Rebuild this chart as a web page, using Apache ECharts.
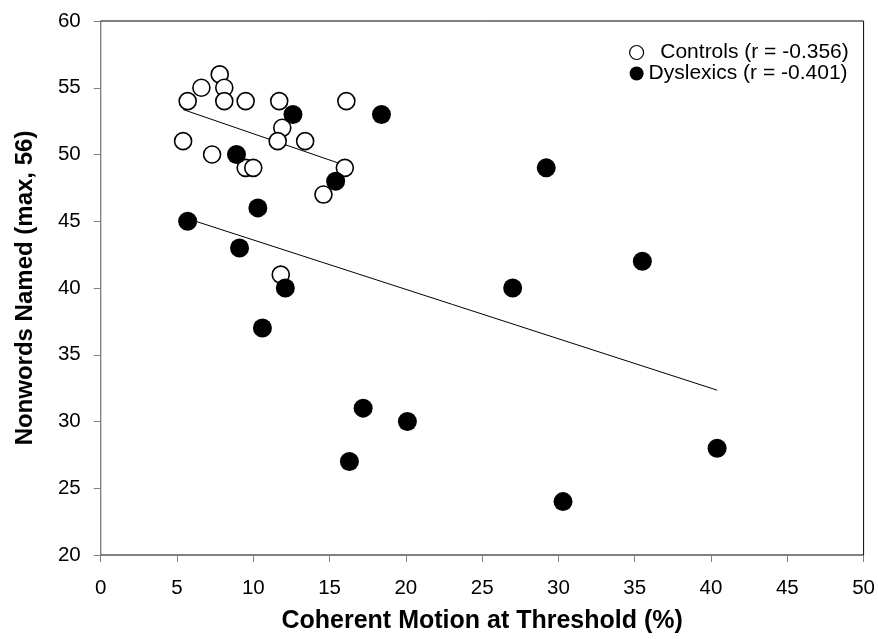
<!DOCTYPE html>
<html>
<head>
<meta charset="utf-8">
<script src="https://cdn.jsdelivr.net/npm/echarts@6/dist/echarts.min.js"></script>
<style>html,body{margin:0;padding:0;background:#fff}#c{width:878px;height:639px}</style>
</head>
<body>
<div id="c"></div>
<script>
// ---- data ----
var controlsX = [7.8, 6.6, 8.1, 5.7, 8.1, 9.5, 11.7, 16.1, 11.9, 11.6, 13.4, 5.4, 7.3, 9.5, 10.0, 16.0, 14.6, 11.8];
var controlsY = [56, 55, 55, 54, 54, 54, 54, 54, 52, 51, 51, 51, 50, 49, 49, 49, 47, 41];
var dyslexicsX = [12.6, 18.4, 8.9, 15.4, 10.3, 5.7, 9.1, 12.1, 10.6, 29.2, 27.0, 35.5, 17.2, 20.1, 16.3, 30.3, 40.4];
var dyslexicsY = [53, 53, 50, 48, 46, 45, 43, 40, 37, 49, 40, 42, 31, 30, 27, 24, 28];
var seriesNames = ['Controls (r = -0.356)', 'Dyslexics (r = -0.401)'];
var xTicks = [0, 5, 10, 15, 20, 25, 30, 35, 40, 45, 50];
var yTicks = [20, 25, 30, 35, 40, 45, 50, 55, 60];
var xTitle = 'Coherent Motion at Threshold (%)';
var yTitle = 'Nonwords Named (max, 56)';

function pairs(xs, ys) { return xs.map(function (x, i) { return [x, ys[i]]; }); }
function fitLine(xs, ys) {
  var n = xs.length, mx = 0, my = 0;
  xs.forEach(function (v) { mx += v; }); ys.forEach(function (v) { my += v; });
  mx /= n; my /= n;
  var sxy = 0, sxx = 0;
  for (var i = 0; i < n; i++) { sxy += (xs[i] - mx) * (ys[i] - my); sxx += (xs[i] - mx) * (xs[i] - mx); }
  var b = sxy / sxx, a = my - b * mx;
  var x0 = Math.min.apply(null, xs), x1 = Math.max.apply(null, xs);
  return [[x0, a + b * x0], [x1, a + b * x1]];
}

var FONT = 'Liberation Sans, Arial, sans-serif';
var chart = echarts.init(document.getElementById('c'), null, { renderer: 'canvas' });
chart.setOption({
  animation: false,
  backgroundColor: '#fff',
  grid: { left: 100.7, right: 13.7, top: 21, bottom: 82.3, show: true, borderColor: '#000', borderWidth: 1, backgroundColor: 'transparent' },
  legend: {
    orient: 'vertical', left: 624, top: 37, itemWidth: 14, itemHeight: 14, itemGap: 0,
    textStyle: { fontFamily: FONT, fontSize: 21, color: '#000', lineHeight: 21 },
    formatter: function (n) { return n === seriesNames[0] ? '  ' + n : n; },
    data: [
      { name: seriesNames[0], icon: 'circle', itemStyle: { color: '#fff', borderColor: '#000', borderWidth: 1.2 } },
      { name: seriesNames[1], icon: 'circle', itemStyle: { color: '#000', borderColor: '#000', borderWidth: 0 } }
    ]
  },
  xAxis: {
    type: 'value', min: xTicks[0], max: xTicks[xTicks.length - 1], interval: 5,
    name: xTitle, nameLocation: 'middle', nameGap: 54,
    nameTextStyle: { fontFamily: FONT, fontSize: 25, fontWeight: 'bold', color: '#000' },
    axisLine: { lineStyle: { color: '#808080', width: 1 } },
    axisTick: { show: true, length: 7, inside: false, lineStyle: { color: '#808080' } },
    axisLabel: { fontFamily: FONT, fontSize: 20.5, color: '#000', margin: 23 },
    splitLine: { show: false }
  },
  yAxis: {
    type: 'value', min: yTicks[0], max: yTicks[yTicks.length - 1], interval: 5,
    name: yTitle, nameLocation: 'middle', nameGap: 63, nameRotate: 90,
    nameTextStyle: { fontFamily: FONT, fontSize: 24, fontWeight: 'bold', color: '#000' },
    axisLine: { lineStyle: { color: '#808080', width: 1 } },
    axisTick: { show: true, length: 7, inside: false, lineStyle: { color: '#808080' } },
    axisLabel: { fontFamily: FONT, fontSize: 20.5, color: '#000', margin: 20 },
    splitLine: { show: false }
  },
  series: [
    { type: 'line', data: fitLine(controlsX, controlsY), symbol: 'none', lineStyle: { color: '#000', width: 1 }, z: 1, silent: true, legendHoverLink: false },
    { type: 'line', data: fitLine(dyslexicsX, dyslexicsY), symbol: 'none', lineStyle: { color: '#000', width: 1 }, z: 1, silent: true, legendHoverLink: false },
    { name: seriesNames[0], type: 'scatter', data: pairs(controlsX, controlsY), symbol: 'circle', symbolSize: 17,
      itemStyle: { color: '#fff', borderColor: '#000', borderWidth: 1.6, opacity: 1 }, z: 3 },
    { name: seriesNames[1], type: 'scatter', data: pairs(dyslexicsX, dyslexicsY), symbol: 'circle', symbolSize: 19,
      itemStyle: { color: '#000', opacity: 1 }, z: 4 }
  ]
});
</script>
</body>
</html>
